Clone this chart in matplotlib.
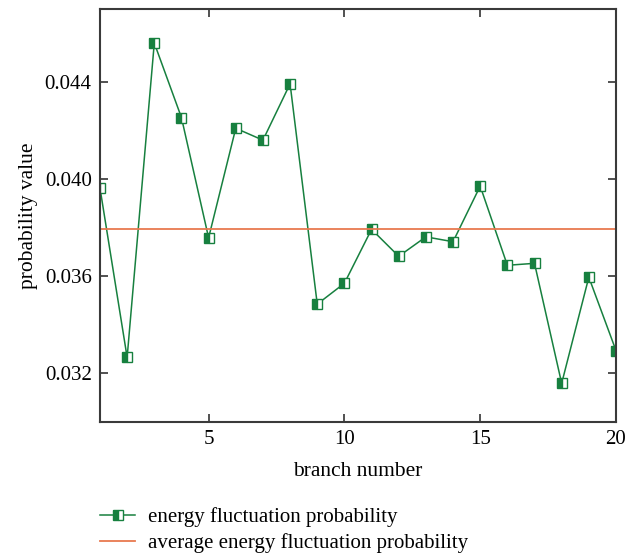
import numpy as np
from matplotlib import pyplot as plt

plt.rcParams['font.family'] = ['Liberation Serif', 'DejaVu Serif']

branches = list(range(1, 21))
probs = [0.03963, 0.03266, 0.04560, 0.04253, 0.03758, 0.04209, 0.04160, 0.04392,
         0.03485, 0.03571, 0.03793, 0.03682, 0.03762, 0.03742, 0.03971, 0.03645,
         0.03653, 0.03159, 0.03596, 0.03294]
avg_prob = np.mean(probs)

yticks = [0.032, 0.036, 0.040, 0.044]
ytick_labels = ['0.032', '0.036', '0.040', '0.044']
xticks = [5, 10, 15, 20]

green = '#17803f'
orange = '#e8794f'

fig = plt.figure(figsize=(6.38, 5.54), dpi=100)
ax = fig.add_axes([0.1567, 0.2383, 0.8088, 0.7455])

l1, = ax.plot(branches, probs, color=green, linewidth=1.1, marker='s', markersize=6.5,
              fillstyle='left', markerfacecolor=green, markerfacecoloralt='white',
              markeredgecolor=green, markeredgewidth=1.0)
l2 = ax.axhline(avg_prob, color=orange, linewidth=1.3)

ax.set_xlim(1, 20)
ax.set_ylim(0.030, 0.047)
ax.set_xticks(xticks)
ax.set_yticks(yticks)
ax.set_yticklabels(ytick_labels)
ax.tick_params(axis='both', direction='in', length=6, width=1.2, color='#333333',
               labelsize=15, top=True, right=True, pad=6)
for s in ax.spines.values():
    s.set_color('#3a3a3a')
    s.set_linewidth(1.5)

ax.set_xlabel('branch number', fontsize=15.5, labelpad=9)
ax.set_ylabel('probability value', fontsize=15.5, labelpad=5)

fig.legend([l1, l2], ['energy fluctuation probability', 'average energy fluctuation probability'],
           loc='upper left', bbox_to_anchor=(100/638, 1 - 507/554), frameon=False, fontsize=15,
           handlelength=1.7, handletextpad=0.6, labelspacing=0.3, borderpad=0,
           borderaxespad=0)

fig.savefig('out.png', dpi=100)
